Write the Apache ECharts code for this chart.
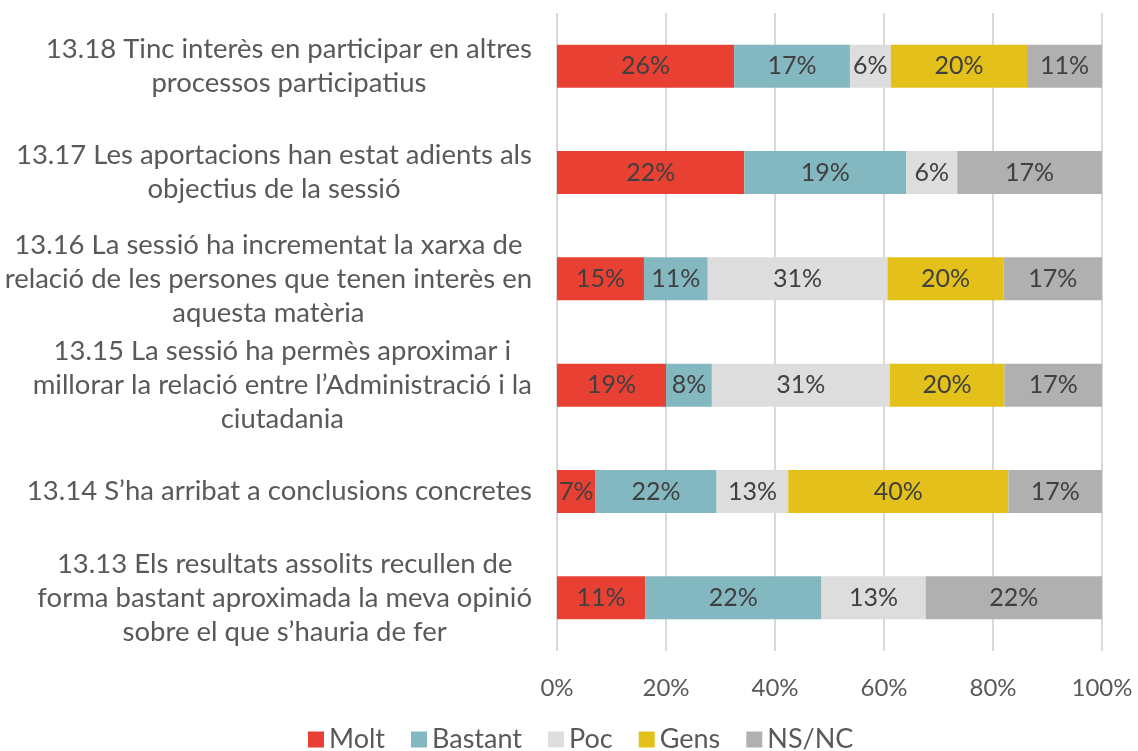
<!DOCTYPE html>
<html>
<head>
<meta charset="utf-8">
<script src="https://cdn.jsdelivr.net/npm/echarts@6/dist/echarts.min.js"></script>
<style>
  html, body { margin: 0; padding: 0; background: #fff; }
  #chart { width: 1138px; height: 751px; }
</style>
</head>
<body>
<div id="chart"></div>
<script>
// preguntes, de dalt a baix
const categories = [
  '13.18 Tinc interès en participar en altres\nprocessos participatius',
  '13.17 Les aportacions han estat adients als\nobjectius de la sessió',
  '13.16 La sessió ha incrementat la xarxa de\nrelació de les persones que tenen interès en\naquesta matèria',
  '13.15 La sessió ha permès aproximar i\nmillorar la relació entre l’Administració i la\nciutadania',
  '13.14 S’ha arribat a conclusions concretes',
  '13.13 Els resultats assolits recullen de\nforma bastant aproximada la meva opinió\nsobre el que s’hauria de fer'
];
const seriesNames = ['Molt', 'Bastant', 'Poc', 'Gens', 'NS/NC'];
const molt    = [26, 22, 15, 19, 7, 11];
const bastant = [17, 19, 11, 8, 22, 22];
const poc     = [6, 6, 31, 31, 13, 13];
const gens    = [20, 0, 20, 20, 40, 0];
const nsnc    = [11, 17, 17, 17, 17, 22];
const xTicks = ['0%', '20%', '40%', '60%', '80%', '100%'];

const colors = ['#E84133', '#84B8C1', '#DDDDDD', '#E3C11A', '#B0B0B0'];
const raw = [molt, bastant, poc, gens, nsnc];

// barres al 100%: es normalitza per fila, l'etiqueta mostra el valor original
const totals = categories.map((c, i) => raw.reduce((s, arr) => s + arr[i], 0));

const chart = echarts.init(document.getElementById('chart'));
const font = 'Lato';

const option = {
  animation: false,
  textStyle: { fontFamily: font },
  grid: { left: 557, right: 36, top: 13, bottom: 100, containLabel: false },
  legend: {
    bottom: -7,
    left: 303,
    itemWidth: 16,
    itemHeight: 16,
    itemGap: 26,
    icon: 'rect',
    textStyle: { fontSize: 27, color: '#595959', fontFamily: font },
    data: seriesNames
  },
  xAxis: {
    type: 'value',
    min: 0,
    max: 100,
    interval: 20,
    axisLine: { show: false },
    axisTick: { show: false },
    splitLine: { lineStyle: { color: '#D9D9D9', width: 2 } },
    axisLabel: {
      fontSize: 24,
      color: '#595959',
      margin: 25,
      formatter: v => xTicks[v / 20]
    }
  },
  yAxis: {
    type: 'category',
    inverse: true,
    data: categories,
    axisLine: { show: false },
    axisTick: { show: false },
    axisLabel: {
      margin: 25,
      align: 'right',
      formatter: v => '{a|' + v + '}',
      rich: {
        a: { fontSize: 27.5, lineHeight: 34, color: '#595959', align: 'center', fontFamily: font }
      }
    }
  },
  series: seriesNames.map((name, s) => ({
    name: name,
    type: 'bar',
    stack: 'total',
    barWidth: 43,
    itemStyle: { color: colors[s] },
    label: {
      show: true,
      position: 'inside',
      fontSize: 25,
      color: '#404040',
      fontFamily: font,
      formatter: p => raw[s][p.dataIndex] ? raw[s][p.dataIndex] + '%' : ''
    },
    data: raw[s].map((v, i) => v / totals[i] * 100)
  }))
};

chart.setOption(option);
</script>
</body>
</html>
